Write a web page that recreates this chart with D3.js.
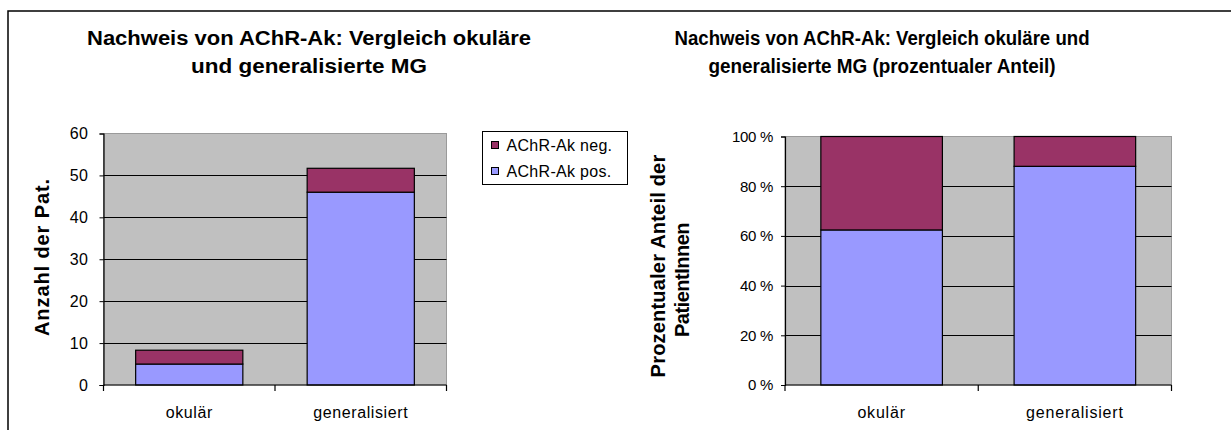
<!DOCTYPE html>
<html>
<head>
<meta charset="utf-8">
<script src="https://cdn.jsdelivr.net/npm/d3@7"></script>
<style>
  html, body { margin: 0; padding: 0; background: #fff; }
  svg { display: block; font-family: "Liberation Sans", Arial, sans-serif; }
</style>
</head>
<body>
<svg id="chart" width="1231" height="430"></svg>
<script>
// Patient groups
const categories = ["okulär", "generalisiert"];

// Left chart: number of patients per group
const countPos = [5, 46];
const countNeg = [3.3, 5.7];
const countTicks = [0, 10, 20, 30, 40, 50, 60];

// Right chart: share of patients per group (percent)
const pctPos = [62.4, 88];
const pctNeg = [37.6, 12];
const pctTicks = [0, 20, 40, 60, 80, 100];

const seriesNames = ["AChR-Ak neg.", "AChR-Ak pos."];
const colNeg = "#993366";
const colPos = "#9999FF";
const plotBg = "#C0C0C0";

const svg = d3.select("#chart");

// outer frame (runs off the right and bottom edges)
svg.append("rect")
  .attr("x", 8).attr("y", 11)
  .attr("width", 1240).attr("height", 440)
  .attr("fill", "none").attr("stroke", "#000").attr("stroke-width", 1.5);

function drawChart(cfg) {
  const g = svg.append("g");
  const x = d3.scaleBand().domain(categories).range([cfg.x0, cfg.x1]).padding(0);
  const y = d3.scaleLinear().domain(cfg.domain).range([cfg.y0, cfg.y1]);

  // plot area
  g.append("rect")
    .attr("x", cfg.x0).attr("y", cfg.y1)
    .attr("width", cfg.x1 - cfg.x0).attr("height", cfg.y0 - cfg.y1)
    .attr("fill", plotBg).attr("stroke", "#9a9a9a").attr("stroke-width", 1);

  // gridlines
  g.append("g").selectAll("line")
    .data(cfg.ticks.filter(t => t > cfg.domain[0] && t < cfg.domain[1]))
    .join("line")
    .attr("x1", cfg.x0).attr("x2", cfg.x1)
    .attr("y1", d => Math.round(y(d)) + 0.5).attr("y2", d => Math.round(y(d)) + 0.5)
    .attr("stroke", "#000").attr("stroke-width", 1);

  // stacked bars
  const stacks = categories.map((c, i) => ({
    cat: c,
    parts: [
      { key: seriesNames[1], lo: 0, hi: cfg.pos[i], color: colPos },
      { key: seriesNames[0], lo: cfg.pos[i], hi: cfg.pos[i] + cfg.neg[i], color: colNeg }
    ]
  }));
  const bw = x.bandwidth() * cfg.barFrac;
  const bars = g.append("g").selectAll("g").data(stacks).join("g")
    .attr("transform", d => `translate(${x(d.cat) + (x.bandwidth() - bw) / 2},0)`);
  bars.selectAll("rect").data(d => d.parts).join("rect")
    .attr("x", 0).attr("width", bw)
    .attr("y", d => y(d.hi)).attr("height", d => y(d.lo) - y(d.hi))
    .attr("fill", d => d.color).attr("stroke", "#000").attr("stroke-width", 1.2);

  // y axis
  const ya = d3.axisLeft(y).tickValues(cfg.ticks).tickSize(4).tickPadding(cfg.tickPad)
    .tickFormat(cfg.fmt);
  const yg = g.append("g").attr("transform", `translate(${cfg.x0},0)`).call(ya);
  yg.select(".domain").attr("stroke", "#000").attr("stroke-width", 1.2);
  yg.selectAll(".tick line").attr("stroke", "#000");
  yg.selectAll(".tick text")
    .attr("font-family", "Liberation Sans, Arial, sans-serif")
    .attr("font-size", cfg.tickFont).attr("fill", "#000")
    .style("letter-spacing", cfg.tickSpacing);

  // x axis: baseline with ticks at category boundaries
  g.append("line")
    .attr("x1", cfg.x0).attr("x2", cfg.x1)
    .attr("y1", cfg.y0).attr("y2", cfg.y0)
    .attr("stroke", "#000").attr("stroke-width", 1.2);
  const bounds = categories.map(c => x(c)).concat([cfg.x1]);
  g.append("g").selectAll("line").data(bounds).join("line")
    .attr("x1", d => d).attr("x2", d => d)
    .attr("y1", cfg.y0).attr("y2", cfg.y0 + 6)
    .attr("stroke", "#000").attr("stroke-width", 1.2);
  g.append("g").selectAll("text").data(categories).join("text")
    .attr("x", d => x(d) + x.bandwidth() / 2)
    .attr("y", 418)
    .attr("text-anchor", "middle")
    .attr("font-size", 16)
    .style("letter-spacing", cfg.catSpacing)
    .text(d => d);

  // title
  g.append("g").selectAll("text").data(cfg.title).join("text")
    .attr("x", cfg.titleX)
    .attr("y", (d, i) => 45 + i * 28)
    .attr("text-anchor", "middle")
    .attr("font-size", 20).attr("font-weight", "bold")
    .attr("textLength", (d, i) => cfg.titleLen[i])
    .attr("lengthAdjust", "spacingAndGlyphs")
    .text(d => d);

  // y axis title
  const yt = g.append("g");
  cfg.yTitle.forEach((t, i) => {
    yt.append("text")
      .attr("transform", `translate(${cfg.yTitleX[i]},${cfg.yTitleY[i]}) rotate(-90)`)
      .attr("text-anchor", "middle")
      .attr("font-size", 20).attr("font-weight", "bold")
      .style("letter-spacing", cfg.yTitleSpacing[i])
      .text(t);
  });
}

drawChart({
  x0: 103.5, x1: 446.5, y0: 385, y1: 133.5,
  domain: [0, 60], ticks: countTicks, fmt: d => d,
  pos: countPos, neg: countNeg, barFrac: 0.625,
  tickFont: 16, tickPad: 11, tickSpacing: "0.5px", catSpacing: "0.6px",
  title: ["Nachweis von AChR-Ak: Vergleich okuläre", "und generalisierte MG"],
  titleX: 309, titleLen: [444, 236],
  yTitle: ["Anzahl der Pat."], yTitleX: [49], yTitleY: [257], yTitleSpacing: ["0.9px"]
});

drawChart({
  x0: 785, x1: 1171.5, y0: 385, y1: 136.5,
  domain: [0, 100], ticks: pctTicks, fmt: d => d + " %",
  pos: pctPos, neg: pctNeg, barFrac: 0.629,
  tickFont: 15, tickPad: 8, tickSpacing: "-0.3px", catSpacing: "0.8px",
  title: ["Nachweis von AChR-Ak: Vergleich okuläre und", "generalisierte MG (prozentualer Anteil)"],
  titleX: 882, titleLen: [415, 347],
  yTitle: ["Prozentualer Anteil der", "PatientInnen"],
  yTitleX: [665, 689], yTitleY: [266, 280], yTitleSpacing: ["0.2px", "-0.5px"]
});

// legend
const lg = svg.append("g");
lg.append("rect")
  .attr("x", 482.5).attr("y", 131.5).attr("width", 145).attr("height", 53)
  .attr("fill", "#fff").attr("stroke", "#000").attr("stroke-width", 1);
const legendItems = [
  { name: seriesNames[0], color: colNeg },
  { name: seriesNames[1], color: colPos }
];
const li = lg.selectAll("g.item").data(legendItems).join("g")
  .attr("class", "item")
  .attr("transform", (d, i) => `translate(491.5,${141.5 + i * 26})`);
li.append("rect").attr("width", 7).attr("height", 7)
  .attr("fill", d => d.color).attr("stroke", "#000").attr("stroke-width", 1);
li.append("text").attr("x", 15).attr("y", 9.5)
  .attr("font-size", 16).style("letter-spacing", "0.3px")
  .text(d => d.name);
</script>
</body>
</html>
